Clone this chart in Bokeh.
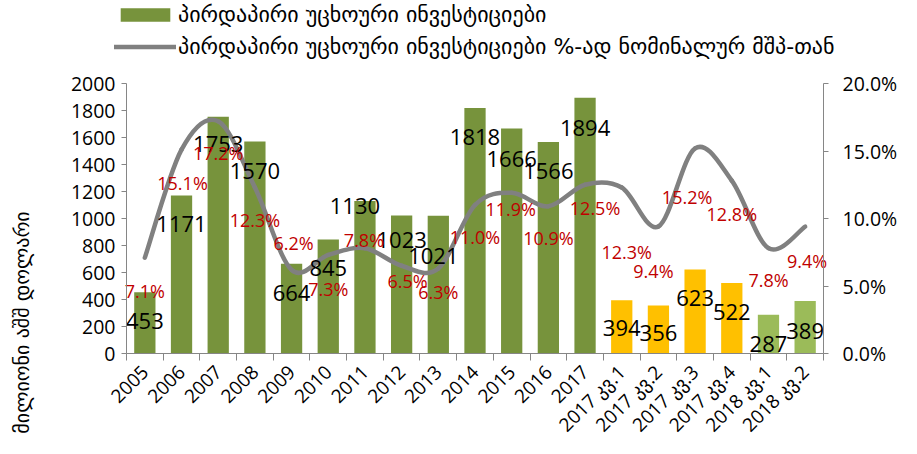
import math
from bokeh.plotting import figure
from bokeh.models import (Range1d, LinearAxis, FixedTicker, PrintfTickFormatter,
                          Legend, LegendItem, Label)
from bokeh.core.properties import value
from bokeh.embed import file_html
from bokeh.resources import INLINE

# ---------------- data ----------------
categories = ["2005", "2006", "2007", "2008", "2009", "2010", "2011", "2012",
              "2013", "2014", "2015", "2016", "2017",
              "2017 კვ.1", "2017 კვ.2", "2017 კვ.3", "2017 კვ.4",
              "2018 კვ.1", "2018 კვ.2"]
fdi = [453, 1171, 1753, 1570, 664, 845, 1130, 1023, 1021, 1818, 1666, 1566, 1894,
       394, 356, 623, 522, 287, 389]
fdi_pct_gdp = [7.1, 15.1, 17.2, 12.3, 6.2, 7.3, 7.8, 6.5, 6.3, 11.0, 11.9, 10.9, 12.5,
               12.3, 9.4, 15.2, 12.8, 7.8, 9.4]
period_type = ["year"] * 13 + ["q2017"] * 4 + ["q2018"] * 2

legend_bar = "პირდაპირი უცხოური ინვესტიციები"
legend_line = "პირდაპირი უცხოური ინვესტიციები %-ად ნომინალურ მშპ-თან"
y_title = "მილიონი აშშ დოლარი"

left_ticks = list(range(0, 2001, 200))
right_ticks = [0, 5, 10, 15, 20]
left_max = 2000
right_max = 20

# label nudges in pixels (positions of data labels as placed in the original)
bar_label_dx = [0, 0, 0, 0, 0, 0, -10, 0, -5, 0, 0, 0, 0, 0, 0, 0, 0, 0, 0]
bar_label_dy = [29, 29, 27, 29, 29, 29, 5, 25, 40, 29, 30, 29, 30, 28, 28, 29, 29, 29, 30]
pct_label_dx = [0, 1, 0, 0, 2, 0, -1, 6, 0, 0, -1, 0, 10, 5, -5, -8, 0, 0, 2]
pct_label_dy = [33, 33, 32, 33, -27, 34, -8, 15, 24, 32, 16, 32, 23, 65, 44, 49, 33, 32, 34]

# ---------------- layout (pixels) ----------------
W, H = 912, 452
PLOT_L, PLOT_R, PLOT_T, PLOT_B = 126, 823, 83, 353

# ---------------- styles ----------------
FONT = "Open Sans"
GEO = "DejaVu Sans"
color_map = {"year": "#77933C", "q2017": "#FFC000", "q2018": "#9BBB59"}
AXIS_GREY = "#868686"
LINE_GREY = "#808080"
RED = "#C00000"

n = len(categories)
xs = list(range(n))
bar_colors = [color_map[t] for t in period_type]

# ranges extended so that the drawing frame covers the whole canvas
xppu = (PLOT_R - PLOT_L) / n
x_start = -0.5 - PLOT_L / xppu
x_end = n - 0.5 + (W - PLOT_R) / xppu
yppu = (PLOT_B - PLOT_T) / left_max
y_start = -(H - PLOT_B) / yppu
y_end = left_max + PLOT_T / yppu
k = right_max / left_max

p = figure(width=W, height=H, output_backend="svg", toolbar_location=None,
           x_range=Range1d(x_start, x_end), y_range=Range1d(y_start, y_end),
           min_border=0)
p.extra_y_ranges = {"pct": Range1d(y_start * k, y_end * k)}
p.outline_line_color = None
p.xgrid.visible = False
p.ygrid.visible = False
p.background_fill_color = "white"
p.border_fill_color = "white"

# bars
p.vbar(x=xs, top=fdi, width=0.58, fill_color=bar_colors, line_color=None)

# smoothed line (bezier segments through the data points)
px = xs
py = fdi_pct_gdp
x0s, y0s, x1s, y1s, cx0s, cy0s, cx1s, cy1s = [], [], [], [], [], [], [], []
for i in range(n - 1):
    a = max(i - 1, 0)
    d = min(i + 2, n - 1)
    x0s.append(px[i]); y0s.append(py[i])
    x1s.append(px[i + 1]); y1s.append(py[i + 1])
    cx0s.append(px[i] + (px[i + 1] - px[a]) / 6.0)
    cy0s.append(py[i] + (py[i + 1] - py[a]) / 6.0)
    cx1s.append(px[i + 1] - (px[d] - px[i]) / 6.0)
    cy1s.append(py[i + 1] - (py[d] - py[i]) / 6.0)
p.bezier(x0=x0s, y0=y0s, x1=x1s, y1=y1s, cx0=cx0s, cy0=cy0s, cx1=cx1s, cy1=cy1s,
         line_color=LINE_GREY, line_width=4.5, line_cap="round", y_range_name="pct")

# data labels
p.text(x=xs, y=fdi, text=[str(v) for v in fdi], x_offset=bar_label_dx,
       y_offset=bar_label_dy, text_align="center", text_baseline="middle",
       text_font=value(FONT), text_font_size="22px", text_color="black")
p.text(x=xs, y=fdi_pct_gdp, text=["%.1f%%" % v for v in fdi_pct_gdp],
       x_offset=pct_label_dx, y_offset=pct_label_dy, text_align="center",
       text_baseline="middle", text_font=value(FONT), text_font_size="18px",
       text_color=RED, y_range_name="pct")

# legend proxies (one invisible NaN point each, only used for the legend swatch)
nan = float("nan")
bar_leg = p.vbar(x=[nan], top=[nan], width=0.5, fill_color=color_map["year"],
                 line_color=None)
line_leg = p.line(x=[nan], y=[nan], line_color=LINE_GREY, line_width=4.5,
                  line_cap="round")
legend = Legend(items=[LegendItem(label=legend_bar, renderers=[bar_leg]),
                       LegendItem(label=legend_line, renderers=[line_leg])],
                location=(114, H - 59), orientation="vertical",
                glyph_width=62, glyph_height=17, label_height=22, spacing=7,
                padding=0, margin=0, border_line_color=None,
                background_fill_alpha=0, label_text_font=GEO,
                label_text_font_size="22px", label_standoff=2,
                label_text_color="black")
p.add_layout(legend)

# x axis
xa = p.xaxis[0]
xa.fixed_location = 0
xa.bounds = (-0.5, n - 0.5)
xa.ticker = FixedTicker(ticks=xs, minor_ticks=[i - 0.5 for i in range(n + 1)])
xa.major_label_overrides = {i: c for i, c in zip(xs, categories)}
xa.major_label_orientation = math.pi / 4
xa.major_tick_line_color = None
xa.minor_tick_line_color = AXIS_GREY
xa.minor_tick_out = 7
xa.minor_tick_in = 0
xa.axis_line_color = AXIS_GREY
xa.major_label_text_font = FONT
xa.major_label_text_font_size = "19px"
xa.major_label_text_color = "black"
xa.major_label_standoff = 8

# left y axis
ya = p.yaxis[0]
ya.fixed_location = -0.5
ya.bounds = (0, left_max)
ya.ticker = FixedTicker(ticks=left_ticks)
ya.axis_line_color = AXIS_GREY
ya.major_tick_line_color = AXIS_GREY
ya.major_tick_out = 5
ya.major_tick_in = 0
ya.minor_tick_line_color = None
ya.major_label_text_font = FONT
ya.major_label_text_font_size = "19.5px"
ya.major_label_text_color = "black"
ya.major_label_standoff = 6

# right y axis
ra = LinearAxis(y_range_name="pct", ticker=FixedTicker(ticks=right_ticks),
                formatter=PrintfTickFormatter(format="%.1f%%"))
ra.fixed_location = n - 0.5
ra.bounds = (0, right_max)
ra.axis_line_color = AXIS_GREY
ra.major_tick_line_color = AXIS_GREY
ra.major_tick_out = 5
ra.major_tick_in = 0
ra.minor_tick_line_color = None
ra.major_label_text_font = FONT
ra.major_label_text_font_size = "19.5px"
ra.major_label_text_color = "black"
ra.major_label_standoff = 14
p.add_layout(ra, "right")

# y title
p.add_layout(Label(x=21, y=H - 322, x_units="screen", y_units="screen", text=y_title,
                   angle=math.pi / 2, text_align="center", text_baseline="middle",
                   text_font=GEO, text_font_size="20px", text_color="black"))

open("out.html", "w").write(file_html(p, INLINE))
